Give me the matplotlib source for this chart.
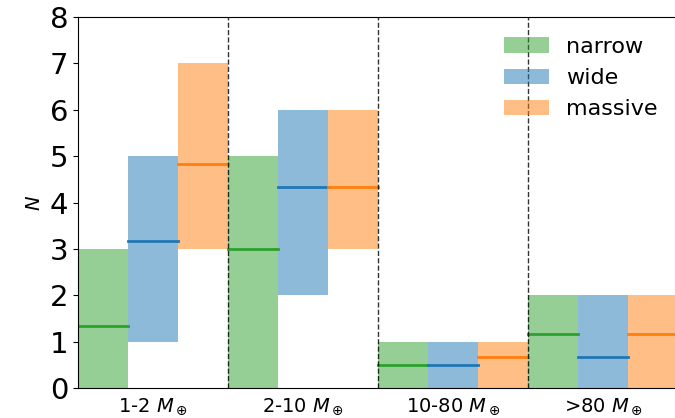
import matplotlib.pyplot as plt
import numpy as np

groups = ['1-2 $M_\\oplus$', '2-10 $M_\\oplus$', '10-80 $M_\\oplus$', '>80 $M_\\oplus$']
series = ['narrow', 'wide', 'massive']
colors = ['#2ca02c', '#1f77b4', '#ff7f0e']

# lower / upper range and median per group
narrow_low = [0, 0, 0, 0]
narrow_high = [3, 5, 1, 2]
narrow_med = [1.33, 3.0, 0.5, 1.17]

wide_low = [1, 2, 0, 0]
wide_high = [5, 6, 1, 2]
wide_med = [3.17, 4.33, 0.5, 0.67]

massive_low = [3, 3, 0, 0]
massive_high = [7, 6, 1, 2]
massive_med = [4.83, 4.33, 0.67, 1.17]

lows = [narrow_low, wide_low, massive_low]
highs = [narrow_high, wide_high, massive_high]
meds = [narrow_med, wide_med, massive_med]

fig = plt.figure(figsize=(6.75, 4.18), dpi=100)
ax = fig.add_axes([78 / 675, 30 / 418, 600 / 675, 371 / 418])

n_series = len(series)
for j in range(n_series):
    x = np.arange(len(groups)) * n_series + j
    lo = np.array(lows[j])
    hi = np.array(highs[j])
    ax.bar(x, hi - lo, bottom=lo, width=1, align='edge',
           color=colors[j], alpha=0.5, label=series[j])
    for xi, m in zip(x, meds[j]):
        ax.plot([xi, xi + 1], [m, m], color=colors[j], lw=2)

for k in range(1, len(groups)):
    ax.axvline(k * n_series, color='k', ls='--', lw=1, alpha=0.8, zorder=5)

ax.set_xlim(0, len(groups) * n_series)
ax.set_ylim(0, 8)
ax.set_yticks(range(0, 9))
ax.set_xticks(np.arange(len(groups)) * n_series + n_series / 2)
ax.set_xticklabels(groups, fontsize=14)
ax.tick_params(axis='x', length=0, pad=6)
ax.tick_params(axis='y', labelsize=21)
ax.set_ylabel('$N$', fontsize=14)
ax.legend(frameon=False, fontsize=16, loc='upper right')

plt.savefig('out.png', dpi=100)
